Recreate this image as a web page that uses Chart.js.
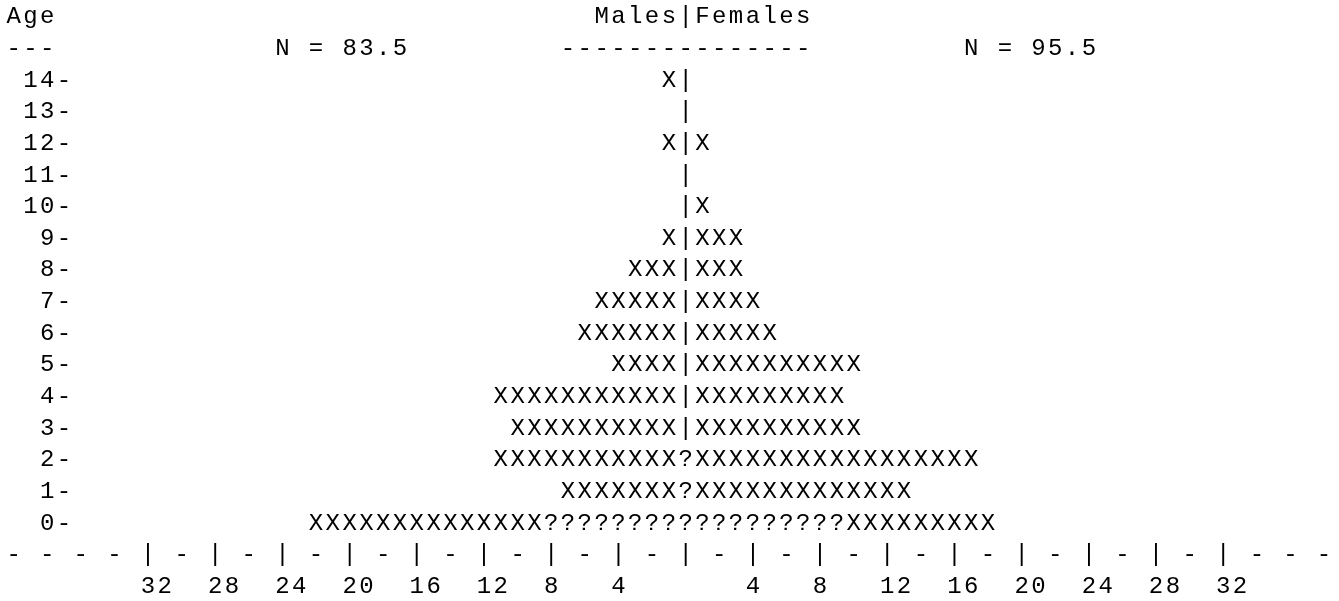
<!DOCTYPE html>
<html>
<head>
<meta charset="utf-8">
<script src="https://cdn.jsdelivr.net/npm/chart.js@4.4.1/dist/chart.umd.min.js"></script>
<style>
  html, body { margin: 0; padding: 0; background: #ffffff; }
  #wrap { width: 1339px; height: 601px; position: relative; }
</style>
</head>
<body>
<div id="wrap"><canvas id="pyramid"></canvas></div>
<script>
// Age classes, top to bottom
const ages = [14, 13, 12, 11, 10, 9, 8, 7, 6, 5, 4, 3, 2, 1, 0];

// whole 'X' marks per age
const malesX   = [1, 0, 1, 0, 0, 1, 3, 5, 6, 4, 11, 10, 11, 7, 14];
const femalesX = [0, 0, 1, 0, 1, 3, 3, 4, 5, 10, 9, 10, 17, 13, 9];

// '?' marks next to the centre line
const malesQ   = [0, 0, 0, 0, 0, 0, 0, 0, 0, 0, 0, 0, 0, 0, 8];
const femalesQ = [0, 0, 0, 0, 0, 0, 0, 0, 0, 0, 0, 0, 0, 0, 9];

// half case shared by both sides (shown as '?' on the centre line)
const sharedHalf = [0, 0, 0, 0, 0, 0, 0, 0, 0, 0, 0, 0, 1, 1, 1];

// labelled ticks on the count axis (males to the left)
const tickValues = [-32, -28, -24, -20, -16, -12, -8, -4, 4, 8, 12, 16, 20, 24, 28, 32];

const sum = arr => arr.reduce((a, b) => a + b, 0);
const nMales = sum(malesX) + sum(malesQ) + sum(sharedHalf) / 2;
const nFemales = sum(femalesX) + sum(femalesQ) + sum(sharedHalf) / 2;

// floating bars, one text column per unit, centre column is [-0.5, 0.5]
const maleQBars   = malesQ.map(q => [-0.5 - q, -0.5]);
const maleXBars   = malesX.map((n, i) => [-0.5 - malesQ[i] - n, -0.5 - malesQ[i]]);
const centerBars  = ages.map(() => [-0.5, 0.5]);
const femaleQBars = femalesQ.map(q => [0.5, 0.5 + q]);
const femaleXBars = femalesX.map((n, i) => [0.5 + femalesQ[i], 0.5 + femalesQ[i] + n]);

const FONT = "24px 'Courier New', 'Liberation Mono', monospace";
const CENTER_COL = 40;

const barStyle = { backgroundColor: 'rgba(0,0,0,0)', borderWidth: 0, grouped: false };

const textPlot = {
    id: 'textPlot',
    afterDatasetsDraw(chart) {
        const { ctx } = chart;
        const x = chart.scales.x;
        const y = chart.scales.y;
        const unit = x.getPixelForValue(1) - x.getPixelForValue(0);
        const pitch = y.getPixelForValue(1) - y.getPixelForValue(0);
        const y0 = y.getPixelForValue(0);

        const colX = c => x.getPixelForValue(c - CENTER_COL);
        const rowY = r => y0 + (r - 2) * pitch;   // r = text line, 0 is "Age"
        const put = (str, col, r) => {
            for (let k = 0; k < str.length; k++) {
                if (str[k] !== ' ') ctx.fillText(str[k], colX(col + k), rowY(r));
            }
        };

        ctx.save();
        ctx.font = FONT;
        ctx.fillStyle = '#000000';
        ctx.textAlign = 'center';
        ctx.textBaseline = 'middle';

        // the marks
        chart.data.datasets.forEach((ds, di) => {
            const meta = chart.getDatasetMeta(di);
            meta.data.forEach((bar, i) => {
                const { x: bx, base, y: by } = bar.getProps(['x', 'base', 'y'], true);
                const n = Math.round(Math.abs(bx - base) / unit);
                const ch = typeof ds.glyph === 'function' ? ds.glyph(i) : ds.glyph;
                const left = Math.min(bx, base);
                for (let j = 0; j < n; j++) ctx.fillText(ch, left + (j + 0.5) * unit, by);
            });
        });

        // header
        put('Age', 0, 0);
        put('Males|Females', 35, 0);
        put('---', 0, 1);
        put('N = ' + nMales, 16, 1);
        put('-'.repeat(15), 33, 1);
        put('N = ' + nFemales, 57, 1);

        // age labels
        ages.forEach((a, i) => put(String(a).padStart(3) + '-', 0, i + 2));

        // count axis line
        const last = ages.length + 2;
        for (let c = 0; c <= 80; c++) {
            const rel = c - CENTER_COL;
            if (rel % 4 === 0 && Math.abs(rel) <= 32) put('|', c, last);
            else if (c % 2 === 0) put('-', c, last);
        }
        tickValues.forEach(v => put(String(Math.abs(v)), CENTER_COL + v, last + 1));

        ctx.restore();
    }
};

new Chart(document.getElementById('pyramid'), {
    type: 'bar',
    data: {
        labels: ages.map(String),
        datasets: [
            { label: 'Males', data: maleXBars, glyph: 'X', ...barStyle },
            { label: 'Males ?', data: maleQBars, glyph: '?', ...barStyle },
            { label: 'Centre', data: centerBars, glyph: i => sharedHalf[i] ? '?' : '|', ...barStyle },
            { label: 'Females ?', data: femaleQBars, glyph: '?', ...barStyle },
            { label: 'Females', data: femaleXBars, glyph: 'X', ...barStyle }
        ]
    },
    options: {
        indexAxis: 'y',
        responsive: true,
        maintainAspectRatio: false,
        animation: false,
        layout: { padding: { top: 64.5, bottom: 62, left: 0, right: 0 } },
        scales: {
            x: { type: 'linear', min: -40.81, max: 38.89, display: false },
            y: { type: 'category', offset: true, display: false }
        },
        plugins: {
            legend: { display: false },
            tooltip: { enabled: false }
        }
    },
    plugins: [textPlot]
});
</script>
</body>
</html>
